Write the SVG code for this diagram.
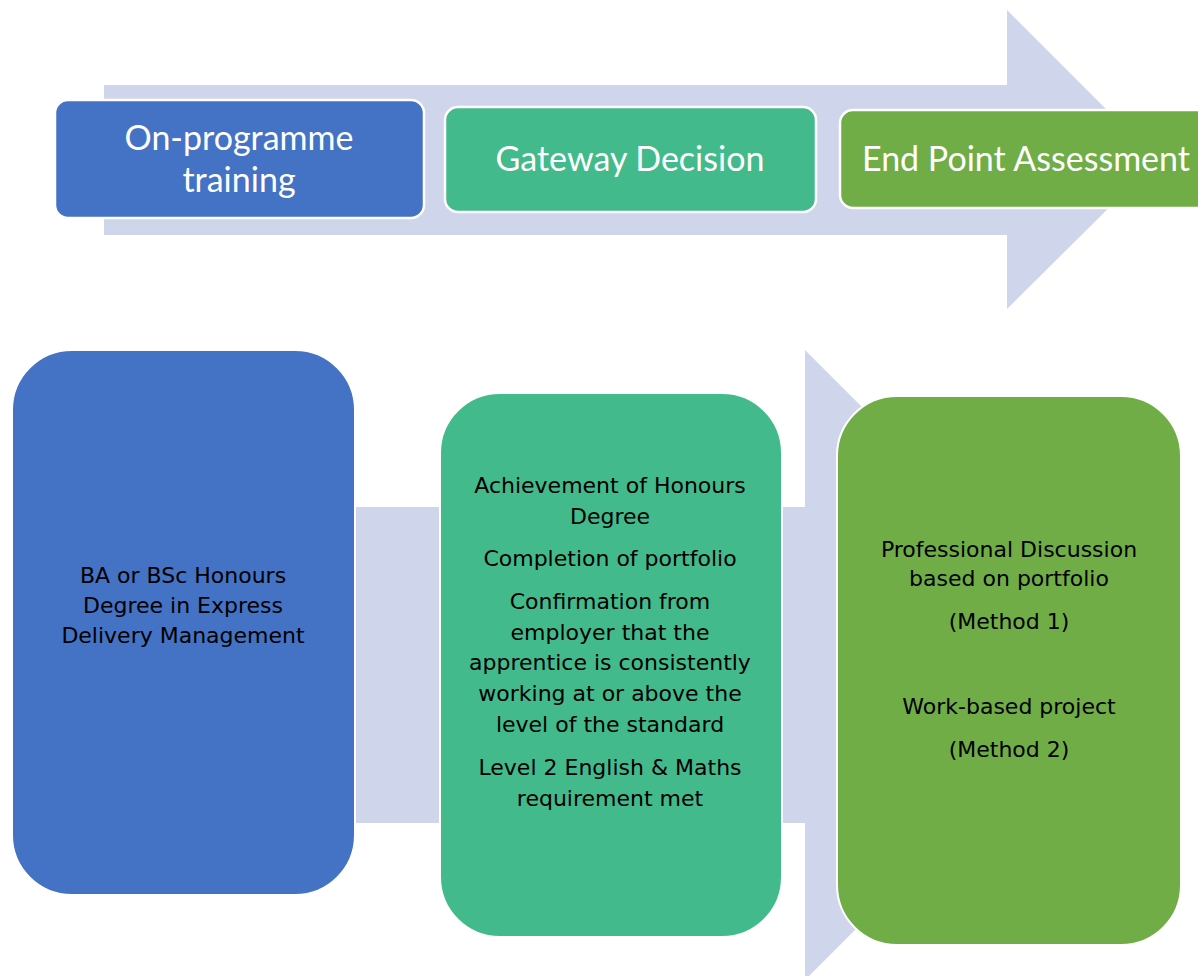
<svg xmlns="http://www.w3.org/2000/svg" width="1198" height="976" viewBox="0 0 1198 976">
<style>
.arrow{fill:#CFD5EA;}
.top{stroke:#FFFFFF;stroke-width:2.5;}
.big{stroke:#FFFFFF;stroke-width:2;}
.tt{font-family:Lato,"Liberation Sans",sans-serif;font-size:34px;fill:#FFFFFF;text-anchor:middle;}
.bt{font-family:"DejaVu Sans","Liberation Sans",sans-serif;font-size:22px;fill:#000000;text-anchor:middle;}
</style>
<rect width="1198" height="976" fill="#FFFFFF"/>
<g id="connectors">
<polygon class="arrow" points="104,85 1007,85 1007,10 1157,160 1007,309 1007,235 104,235"/>
<polygon class="arrow" points="356,507 805,507 805,350 1120,665 805,980 805,823 356,823"/>
</g>
<g id="top-training">
<rect class="top" x="55" y="100" width="369" height="118" rx="13" fill="#4472C4"/>
<text class="tt" x="239" y="150">On-programme</text>
<text class="tt" x="239" y="192">training</text>
</g>
<g id="top-gateway">
<rect class="top" x="445" y="107" width="371" height="105" rx="13" fill="#43BA8C"/>
<text class="tt" x="630" y="171">Gateway Decision</text>
</g>
<g id="top-epa">
<rect class="top" x="840" y="110" width="380" height="98" rx="13" fill="#70AD47"/>
<text class="tt" x="1026" y="171">End Point Assessment</text>
</g>
<g id="training">
<rect class="big" x="12" y="350" width="343" height="545" rx="60" fill="#4472C4"/>
<text class="bt" x="183" y="583">BA or BSc Honours</text>
<text class="bt" x="183" y="613">Degree in Express</text>
<text class="bt" x="183" y="643">Delivery Management</text>
</g>
<g id="gateway">
<rect class="big" x="440" y="393" width="342" height="544" rx="60" fill="#43BA8C"/>
<text class="bt" x="610" y="493">Achievement of Honours</text>
<text class="bt" x="610" y="524">Degree</text>
<text class="bt" x="610" y="566">Completion of portfolio</text>
<text class="bt" x="610" y="609">Confirmation from</text>
<text class="bt" x="610" y="640">employer that the</text>
<text class="bt" x="610" y="670">apprentice is consistently</text>
<text class="bt" x="610" y="701">working at or above the</text>
<text class="bt" x="610" y="732">level of the standard</text>
<text class="bt" x="610" y="775">Level 2 English &amp; Maths</text>
<text class="bt" x="610" y="806">requirement met</text>
</g>
<g id="epa">
<rect class="big" x="837" y="396" width="344" height="549" rx="60" fill="#70AD47"/>
<text class="bt" x="1009" y="557">Professional Discussion</text>
<text class="bt" x="1009" y="586">based on portfolio</text>
<text class="bt" x="1009" y="629">(Method 1)</text>
<text class="bt" x="1009" y="714">Work-based project</text>
<text class="bt" x="1009" y="757">(Method 2)</text>
</g>
</svg>
